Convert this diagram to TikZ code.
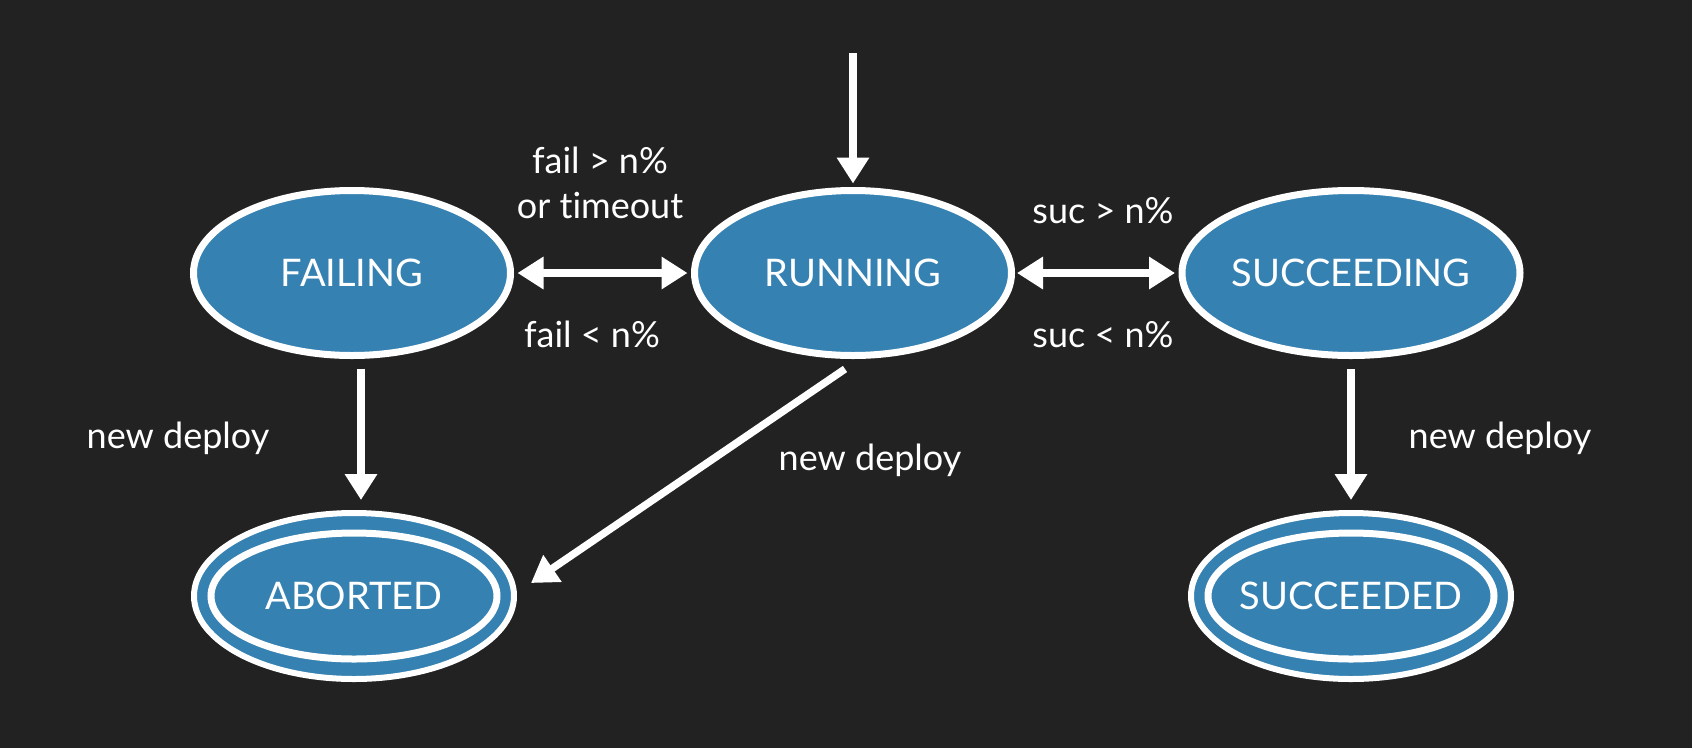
\documentclass[tikz,border=0pt]{standalone}
\usepackage{fontspec}
\setmainfont{Lato}[Ligatures=NoCommon]
\usetikzlibrary{arrows.meta,shapes.geometric,calc}
\definecolor{bgc}{RGB}{34,34,34}
\definecolor{stblue}{RGB}{53,129,178}
\begin{document}
\begin{tikzpicture}[x=1pt,y=-1pt,
  state/.style={ellipse, draw=white, fill=stblue, line width=7pt,
    minimum width=317pt, minimum height=165pt, inner sep=0pt,
    text=white, font=\fontsize{38}{44}\selectfont},
  final/.style={state, line width=6pt, minimum width=320pt, minimum height=166pt},
  ring/.style={draw=white, line width=7pt},
  arr/.style={draw=white, line width=7.5pt, -{Triangle[length=26pt,width=31pt]}},
  darr/.style={draw=white, line width=7.5pt,
    {Triangle[length=26pt,width=31pt]}-{Triangle[length=26pt,width=31pt]}},
  lbl/.style={text=white, font=\fontsize{36}{45}\selectfont, inner sep=0pt, align=center}
]
\fill[bgc] (0,0) rectangle (1692,748);
\useasboundingbox (0,0) rectangle (1692,748);

\node[state] (fail) at (352,273) {FAILING};
\node[state] (run) at (853,273) {RUNNING};
\node[state] (succ) at (1351,273) {SUCCEEDING};
\node[final] (abo) at (354,596) {ABORTED};
\node[final] (sucd) at (1351,596) {SUCCEEDED};
\draw[ring] (abo.center) ellipse [x radius=143pt, y radius=63pt];
\draw[ring] (sucd.center) ellipse [x radius=143pt, y radius=63pt];

\coordinate (start) at (853,53);
\draw[arr, shorten >=3.5pt] (start) -- (run);
\draw[darr, shorten >=3.5pt, shorten <=3.5pt] (fail) -- (run);
\draw[darr, shorten >=3.5pt, shorten <=2pt] (run) -- (succ);
\draw[arr] ($(fail.south)+(9,9.5)$) -- ($(abo.north)+(7,-10)$);
\draw[arr, shorten <=10pt, shorten >=10pt] (succ) -- (sucd);
\draw[arr] ($(run.south)+(-8,10)$) -- ($(abo.east)+(14,-13)$);

\node[lbl] (l1) at (600,183) {fail > n\%\\or timeout};
\node[lbl, anchor=base] (l2) at (592,347) {fail < n\%};
\node[lbl, anchor=base] (l3) at (1103,223) {suc > n\%};
\node[lbl, anchor=base] (l4) at (1103,347) {suc < n\%};
\node[lbl, anchor=base] (l5) at (178,448) {new deploy};
\node[lbl, anchor=base] (l6) at (870,470) {new deploy};
\node[lbl, anchor=base] (l7) at (1500,448) {new deploy};
\end{tikzpicture}
\end{document}
